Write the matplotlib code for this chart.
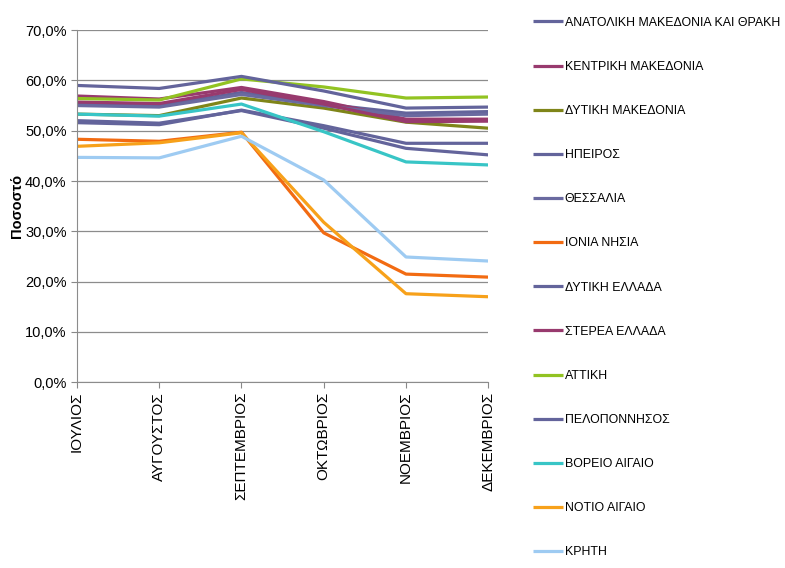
import numpy as np
import matplotlib.pyplot as plt
from matplotlib.ticker import FuncFormatter

# months on the x axis
months = ["ΙΟΥΛΙΟΣ", "ΑΥΓΟΥΣΤΟΣ", "ΣΕΠΤΕΜΒΡΙΟΣ", "ΟΚΤΩΒΡΙΟΣ", "ΝΟΕΜΒΡΙΟΣ", "ΔΕΚΕΜΒΡΙΟΣ"]

# percentage per region
anatoliki_makedonia = [55.3, 55.0, 57.6, 55.3, 53.5, 53.8]
kentriki_makedonia = [56.9, 56.3, 58.6, 55.8, 52.3, 52.3]
dytiki_makedonia = [53.3, 53.0, 56.5, 54.5, 51.7, 50.5]
ipeiros = [51.6, 51.2, 54.1, 51.0, 47.5, 47.5]
thessalia = [55.0, 54.7, 57.2, 55.0, 53.0, 53.3]
ionia_nisia = [48.3, 47.9, 49.7, 29.7, 21.5, 20.9]
dytiki_ellada = [52.0, 51.5, 54.0, 50.5, 46.5, 45.2]
sterea_ellada = [55.7, 55.4, 58.2, 55.3, 51.8, 51.9]
attiki = [56.4, 56.1, 60.3, 58.7, 56.5, 56.7]
peloponnisos = [59.0, 58.4, 60.8, 57.9, 54.5, 54.7]
voreio_aigaio = [53.3, 52.9, 55.3, 49.8, 43.8, 43.2]
notio_aigaio = [46.9, 47.6, 49.6, 31.8, 17.6, 17.0]
kriti = [44.7, 44.6, 48.9, 40.2, 24.9, 24.1]

series = [
    ("ΑΝΑΤΟΛΙΚΗ ΜΑΚΕΔΟΝΙΑ ΚΑΙ ΘΡΑΚΗ", anatoliki_makedonia, "#63649B"),
    ("ΚΕΝΤΡΙΚΗ ΜΑΚΕΔΟΝΙΑ", kentriki_makedonia, "#983A6E"),
    ("ΔΥΤΙΚΗ ΜΑΚΕΔΟΝΙΑ", dytiki_makedonia, "#7F8519"),
    ("ΗΠΕΙΡΟΣ", ipeiros, "#63649B"),
    ("ΘΕΣΣΑΛΙΑ", thessalia, "#6A6AA0"),
    ("ΙΟΝΙΑ ΝΗΣΙΑ", ionia_nisia, "#F26B12"),
    ("ΔΥΤΙΚΗ ΕΛΛΑΔΑ", dytiki_ellada, "#63649B"),
    ("ΣΤΕΡΕΑ ΕΛΛΑΔΑ", sterea_ellada, "#983A6E"),
    ("ΑΤΤΙΚΗ", attiki, "#92C322"),
    ("ΠΕΛΟΠΟΝΝΗΣΟΣ", peloponnisos, "#63649B"),
    ("ΒΟΡΕΙΟ ΑΙΓΑΙΟ", voreio_aigaio, "#38C5C6"),
    ("ΝΟΤΙΟ ΑΙΓΑΙΟ", notio_aigaio, "#F7A11A"),
    ("ΚΡΗΤΗ", kriti, "#9ECBF2"),
]

plt.rcParams['font.family'] = ['Liberation Sans', 'DejaVu Sans']

fig = plt.figure(figsize=(7.85, 5.68), dpi=100)
ax = fig.add_axes([0.098, 0.327, 0.524, 0.62])

x = np.arange(len(months))
for name, vals, col in series:
    ax.plot(x, vals, color=col, lw=2.3, label=name, solid_capstyle='butt')

ax.set_xlim(0, len(months) - 1)
ax.set_ylim(0, 70)
ax.set_yticks(np.arange(0, 71, 10))
ax.yaxis.set_major_formatter(FuncFormatter(lambda v, p: f"{v:.1f}%".replace(".", ",")))
ax.set_xticks(x)
ax.set_xticklabels(months, rotation=90, fontsize=11)
ax.tick_params(axis='y', labelsize=10.5, length=4, color='#888888')
ax.tick_params(axis='x', length=4, color='#888888', pad=3)

ax.grid(axis='y', color='#8c8c8c', lw=0.9)
ax.set_axisbelow(True)
for s in ['top', 'right']:
    ax.spines[s].set_visible(False)
for s in ['left', 'bottom']:
    ax.spines[s].set_color('#8c8c8c')

ax.set_ylabel("Ποσοστό", fontsize=10.5, fontweight='bold', labelpad=1)

leg = fig.legend(loc='upper left', bbox_to_anchor=(0.665, 0.99), frameon=False,
                 handlelength=2.4, handletextpad=0.15, labelspacing=2.6,
                 prop={'size': 8.9})

fig.savefig("out.png", dpi=100)
